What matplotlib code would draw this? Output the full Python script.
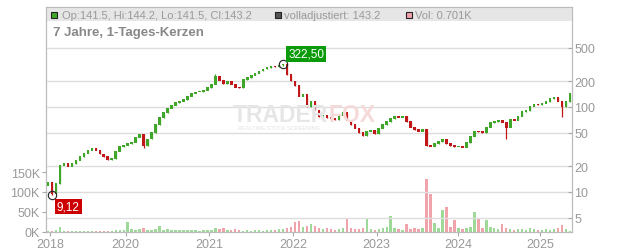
import numpy as np
import matplotlib
matplotlib.use("Agg")
import matplotlib.pyplot as plt
from matplotlib.patches import Rectangle

plt.rcParams['font.family'] = ['Liberation Sans', 'DejaVu Sans']

# candle closes (roughly 2.5 weeks per candle)
closes = [13.1, 9.6, 12.5, 20.5, 21.5, 20.0, 21.5, 23.5, 26, 28.5,
          31, 32.5, 31, 28, 26, 24, 24.5, 30, 34, 35.5,
          37, 38.5, 44, 47, 35, 42, 50, 62, 75, 86,
          96, 105, 112, 116, 122, 134, 145, 150, 152, 157,
          168, 185, 228, 205, 186, 197, 185, 170, 168, 208,
          222, 236, 250, 265, 280, 290, 302, 298, 312, 318,
          240, 202, 178, 133, 140, 100, 115, 92, 77, 79,
          75, 73, 71, 80, 86, 70, 62, 56, 50, 46,
          52, 53, 48, 56, 62, 67, 73, 78, 76, 78,
          67, 58, 54, 52, 55, 35, 34.5, 37, 39, 41,
          37, 35, 34, 34, 33.5, 38, 45, 52, 51, 50,
          58, 65, 67, 69, 66, 58, 72, 70, 78, 88,
          90, 102, 108, 106, 110, 115, 125, 130, 117, 100,
          115, 143.2]
first_open = 12.0

# candles with visible wicks
wick_idx = [1, 24, 42, 59, 115, 129]
wick_lo = [9.12, 33, 185, 300, 42, 76]
wick_hi = [13.1, 48, 244, 322.5, 66, 117]

# volume in thousands
volume = [2, 3, 4, 12, 3, 2, 1.5, 2, 1.5, 2,
          3, 2, 1.5, 2, 2.5, 2, 3, 4, 5, 6,
          25, 8, 6, 7, 9, 5, 6, 8, 15, 6,
          7, 5, 4, 6, 5, 4, 6, 5, 3, 4,
          5, 6, 10, 8, 9, 6, 5, 7, 4, 3,
          4, 3, 5, 4, 3, 5, 4, 6, 7, 8,
          10, 12, 25, 27, 12, 15, 20, 14, 10, 8,
          9, 7, 6, 8, 9, 35, 10, 8, 7, 9,
          35, 8, 6, 7, 9, 12, 40, 10, 7, 6,
          20, 8, 9, 7, 10, 132, 95, 22, 10, 55,
          62, 12, 30, 9, 8, 10, 12, 50, 32, 10,
          30, 12, 9, 8, 20, 9, 8, 6, 7, 8,
          6, 9, 7, 6, 5, 8, 6, 7, 9, 17,
          8, 3]

year_labels = ['2018', '2020', '2021', '2022', '2023', '2024', '2025']
year_pos = [0.5, 19.5, 40.5, 61.5, 82.5, 103, 123.5]

price_ticks = [5, 10, 20, 50, 100, 200, 500]
vol_ticks = [0, 50, 100, 150]

hi_idx, hi_val = 59, 322.5
lo_idx, lo_val = 1, 9.12

GREEN = '#3fa62a'
RED = '#c01818'
GREY = '#999999'

closes = np.array(closes, dtype=float)
opens = np.concatenate([[first_open], closes[:-1]])
highs = np.maximum(opens, closes)
lows = np.minimum(opens, closes)
for i, l, h in zip(wick_idx, wick_lo, wick_hi):
    lows[i] = min(lows[i], l)
    highs[i] = max(highs[i], h)
x = np.arange(len(closes))
up = closes >= opens

fig = plt.figure(figsize=(6.32, 2.53), dpi=100)
W, H = 632, 253
ax_vol = fig.add_axes([46 / W, (H - 233) / H, (572 - 46) / W, (233 - 8) / H])
ax = ax_vol.twinx()

# volume
vcol = np.where(up, '#9ed99a', '#f0a3ab')
ax_vol.bar(x, volume, width=0.6, color=vcol, linewidth=0)
ax_vol.set_ylim(0, 562.5)
ax_vol.set_yticks(vol_ticks)
ax_vol.set_yticklabels([f'{v}K' for v in vol_ticks])

# price candles
ax.set_yscale('log')
ax.set_ylim(3.38, 1500)
ccol = np.where(up, GREEN, RED)
ax.vlines(x, lows, highs, colors=ccol, linewidth=0.9, zorder=3)
body_lo = np.minimum(opens, closes) / 1.012
body_hi = np.maximum(opens, closes) * 1.012
ax.bar(x, body_hi - body_lo, bottom=body_lo, width=0.65, color=ccol, linewidth=0, zorder=3)
ax.set_yticks(price_ticks)
ax.set_yticklabels([str(v) for v in price_ticks])
ax.minorticks_off()
ax.set_xlim(-0.5, len(closes) - 0.5)
ax.set_xticks(year_pos)
ax.set_xticklabels(year_labels)

ax.set_axisbelow(True)
ax.grid(True, color='#dddddd', linewidth=1)
ax.add_patch(Rectangle((0, (233 - 22) / 225), 1, 14 / 225, transform=ax.transAxes,
                       facecolor='#e6e6e6', edgecolor='none', zorder=0.1))

for a in (ax, ax_vol):
    for s in a.spines.values():
        s.set_color('#bbbbbb')
    a.tick_params(colors='#aaaaaa', labelcolor=GREY, labelsize=9, length=3, pad=1.5)
ax.tick_params(axis='y', direction='in')

# high / low markers
ax.plot([hi_idx, lo_idx], [hi_val, lo_val], 'o', ms=6, mfc='none', mec='#222222', mew=0.8, zorder=4)
ax.annotate(f'{hi_val:.2f}'.replace('.', ','), (hi_idx, hi_val), xytext=(5, 10),
            textcoords='offset pixels', ha='left', va='center', color='white', fontsize=8.5,
            bbox=dict(boxstyle='square,pad=0.15', fc='#0a9a0a', ec='none'), zorder=5)
ax.annotate(f'{lo_val:.2f}'.replace('.', ','), (lo_idx, lo_val), xytext=(5, -11),
            textcoords='offset pixels', ha='left', va='center', color='white', fontsize=8.5,
            bbox=dict(boxstyle='square,pad=0.15', fc='#cc0000', ec='none'), zorder=5)

# watermark
t1 = fig.text(233 / W, 1 - 116 / H, 'TRADER', fontsize=16.5, fontweight='bold', color='#e6e6e6',
              va='center', ha='left', zorder=0)
fig.canvas.draw()
bb = t1.get_window_extent()
fig.text(bb.x1 / W, 1 - 116 / H, 'FOX', fontsize=16.5, fontweight='bold', color='#f6dada',
         va='center', ha='left', zorder=0)
fig.text(238 / W, 1 - 129 / H, 'REALTIME STOCK SCREENING', fontsize=4, color='#e2e2e2',
         va='center', ha='left', zorder=0)

# legend line and title
def square(px, color):
    fig.patches.append(Rectangle((px / W, 1 - 18.5 / H), 6 / W, 6 / H, transform=fig.transFigure,
                                 facecolor=color, edgecolor='#222222', linewidth=0.8))

square(51, GREEN)
fig.text(62 / W, 1 - 16 / H, 'Op:141.5, Hi:144.2, Lo:141.5, Cl:143.2', fontsize=8, color=GREY, va='center')
square(275, '#555555')
fig.text(284 / W, 1 - 16 / H, 'volladjustiert: 143.2', fontsize=8, color=GREY, va='center')
square(406, '#f0a3ab')
fig.text(415 / W, 1 - 16 / H, 'Vol: 0.701K', fontsize=8, color=GREY, va='center')
fig.text(53 / W, 1 - 33 / H, '7 Jahre, 1-Tages-Kerzen', fontsize=9.5, fontweight='bold', color='#888888', va='center')

fig.savefig('out.png', dpi=100)
